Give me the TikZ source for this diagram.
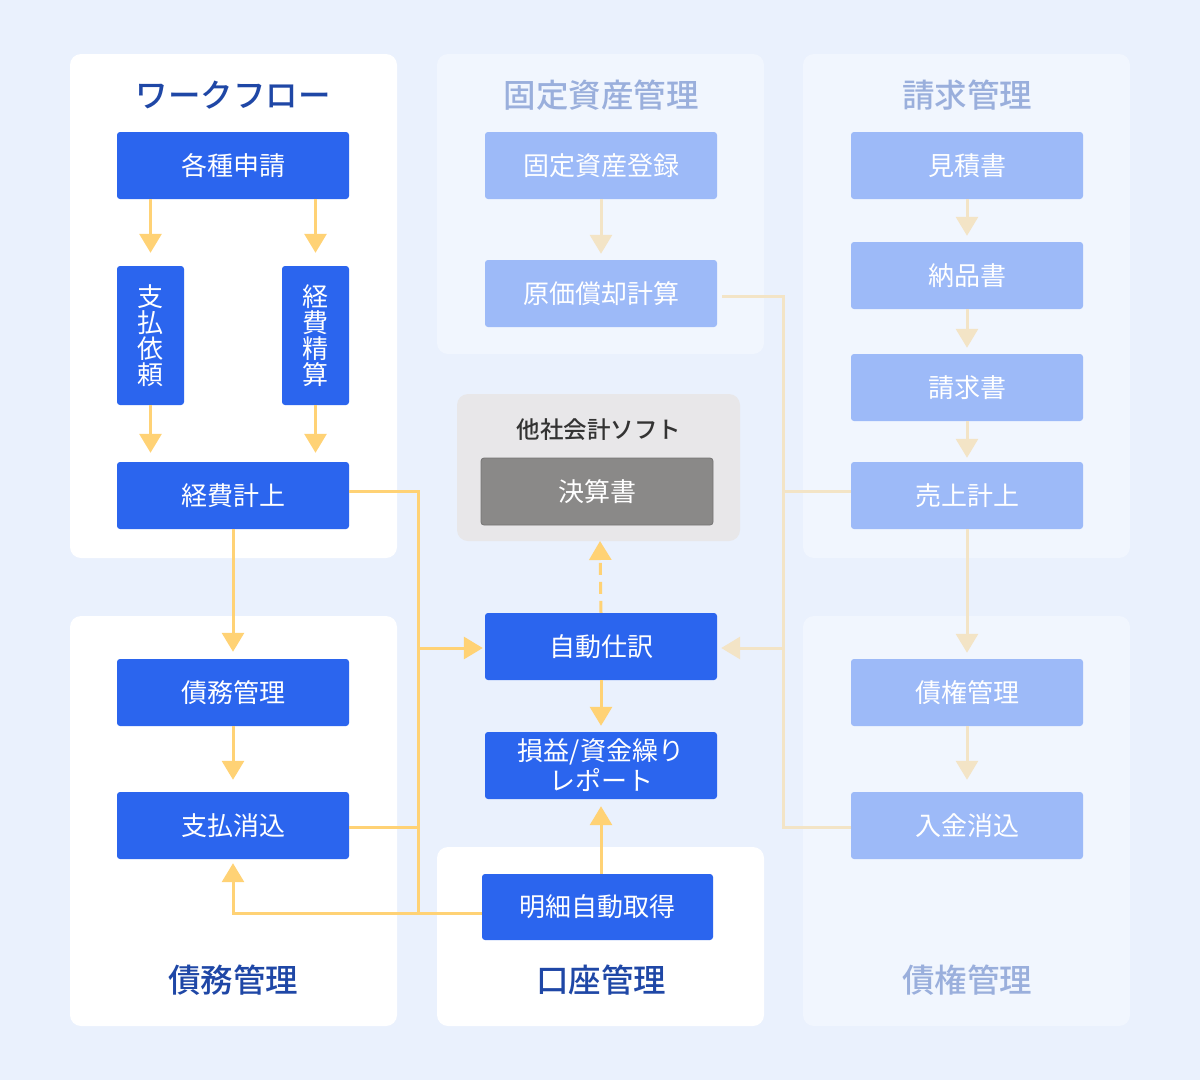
\documentclass[tikz,border=0pt]{standalone}
\usepackage{fontspec}
\setmainfont{Noto Sans CJK JP}
\newfontfamily\medfont{Noto Sans CJK JP Medium}
\usetikzlibrary{arrows.meta,calc}
\definecolor{bg}{HTML}{EAF1FD}
\definecolor{panelW}{HTML}{FFFFFF}
\definecolor{panelL}{HTML}{F1F6FE}
\definecolor{panelG}{HTML}{E8E7E9}
\definecolor{boxD}{HTML}{2B65EE}
\definecolor{boxL}{HTML}{9DBAF8}
\definecolor{boxG}{HTML}{8A8988}
\definecolor{arrO}{HTML}{FFD275}
\definecolor{arrP}{HTML}{F3E4C6}
\definecolor{titD}{HTML}{1F47A6}
\definecolor{titL}{HTML}{9AAFDC}
\begin{document}
\begin{tikzpicture}[x=1pt,y=-1pt,
  panel/.style={rounded corners=11pt},
  boxbase/.style={rectangle, rounded corners=3pt, minimum width=232pt, minimum height=67pt, inner sep=0pt, text=white, font=\fontsize{26}{30}\selectfont, align=center},
  boxd/.style={boxbase, fill=boxD},
  boxl/.style={boxbase, fill=boxL},
  boxg/.style={boxbase, fill=boxG, draw=boxG!85!black, line width=0.8pt},
  vbox/.style={minimum width=67pt, minimum height=139pt, font=\fontsize{26}{26}\selectfont},
  ttl/.style={font=\fontsize{32.5}{36}\selectfont\medfont},
  tip/.style={-{Triangle[width=22pt,length=19pt]}},
  arrO/.style={draw=arrO, line width=3pt},
  arrP/.style={draw=arrP, line width=3pt},
]
\useasboundingbox (0,0) rectangle (1200,1080);
\fill[bg] (0,0) rectangle (1200,1080);
% panels
\fill[panelW,panel] (70,54) rectangle (397,558);
\fill[panelL,panel] (437,54) rectangle (764,354);
\fill[panelL,panel] (803,54) rectangle (1130,558);
\fill[panelG,panel] (457,394) rectangle (740,541);
\fill[panelW,panel] (70,616) rectangle (397,1026);
\fill[panelW,panel] (437,847) rectangle (764,1026);
\fill[panelL,panel] (803,616) rectangle (1130,1026);
\coordinate (gpanel) at (600,541);
% titles
\node[ttl,text=titD] (t1) at (233,95) {ワークフロー};
\node[ttl,text=titL] (t2) at (601,95) {固定資産管理};
\node[ttl,text=titL] (t3) at (967,95) {請求管理};
\node[text=black!80, font=\fontsize{23.5}{26}\selectfont\medfont] (t4) at (599,430) {他社会計ソフト};
\node[ttl,text=titD] (t5) at (233,980) {債務管理};
\node[ttl,text=titD] (t6) at (601,980) {口座管理};
\node[ttl,text=titL] (t7) at (967,980) {債権管理};
% boxes
\node[boxd] (req) at (233,165.5) {各種申請};
\node[boxd,vbox] (pay) at (150.5,335.5) {支\\払\\依\\頼};
\node[boxd,vbox] (exp) at (315.5,335.5) {経\\費\\精\\算};
\node[boxd] (kh) at (233,495.5) {経費計上};
\node[boxd] (sm) at (233,692.5) {債務管理};
\node[boxd] (ps) at (233,825.5) {支払消込};
\node[boxl] (fa) at (601,165.5) {固定資産登録};
\node[boxl] (dep) at (601,293.5) {原価償却計算};
\node[boxl] (est) at (967,165.5) {見積書};
\node[boxl] (dlv) at (967,275.5) {納品書};
\node[boxl] (inv) at (967,387.5) {請求書};
\node[boxl] (sales) at (967,495.5) {売上計上};
\node[boxl] (ar) at (967,692.5) {債権管理};
\node[boxl] (rc) at (967,825.5) {入金消込};
\node[boxg] (fs) at (597,491.5) {決算書};
\node[boxd] (jd) at (601,646.5) {自動仕訳};
\node[boxd] (rep) at (601,765.5) {損益/資金繰り\\レポート};
\node[boxd, minimum width=231pt, minimum height=66pt] (bk) at (597.5,907) {明細自動取得};
% bus coordinates
\coordinate (busL) at (418,648);
\coordinate (busR) at (783,648);
% workflow arrows
\draw[arrO,tip,shorten >=13pt] (req.south -| pay.north) -- (pay.north);
\draw[arrO,tip,shorten >=13pt] (req.south -| exp.north) -- (exp.north);
\draw[arrO,tip,shorten >=9pt] (pay.south) -- (kh.north -| pay.south);
\draw[arrO,tip,shorten >=9pt] (exp.south) -- (kh.north -| exp.south);
\draw[arrO,tip,shorten >=7pt] (kh.south) -- (sm.north);
\draw[arrO,tip,shorten >=12pt] (sm.south) -- (ps.north);
% left bus
\draw[arrO] ([yshift=4pt]kh.east) -| (busL);
\draw[arrO] ([yshift=-2pt]ps.east) -| (busL);
\draw[arrO] ([yshift=-6pt]bk.west) -| (busL);
\draw[arrO,tip,shorten >=2pt] (busL) -- (jd.west |- busL);
\draw[arrO,tip,shorten >=4pt] ([yshift=-6pt]bk.west) -| (ps.south);
% center arrows
\draw[arrO,tip,dash pattern=on 12pt off 7pt] (jd.north) -- (gpanel);
\draw[arrO,tip,shorten >=6pt] (jd.south) -- (rep.north);
\draw[arrO,tip,shorten >=7pt] (bk.north -| rep.south) -- (rep.south);
% right side arrows
\draw[arrP,tip,shorten >=6pt] (fa.south) -- (dep.north);
\draw[arrP,tip,shorten >=6pt] (est.south) -- (dlv.north);
\draw[arrP,tip,shorten >=6pt] (dlv.south) -- (inv.north);
\draw[arrP,tip,shorten >=4pt] (inv.south) -- (sales.north);
\draw[arrP,tip,shorten >=6pt] (sales.south) -- (ar.north);
\draw[arrP,tip,shorten >=12pt] (ar.south) -- (rc.north);
% right bus
\draw[arrP,shorten <=5pt] ([yshift=-3pt]dep.east) -| (busR);
\draw[arrP] ([yshift=4pt]sales.west) -| (busR);
\draw[arrP] ([yshift=-2pt]rc.west) -| (busR);
\draw[arrP,tip,shorten >=4pt] (busR) -- (jd.east |- busR);
\end{tikzpicture}
\end{document}
